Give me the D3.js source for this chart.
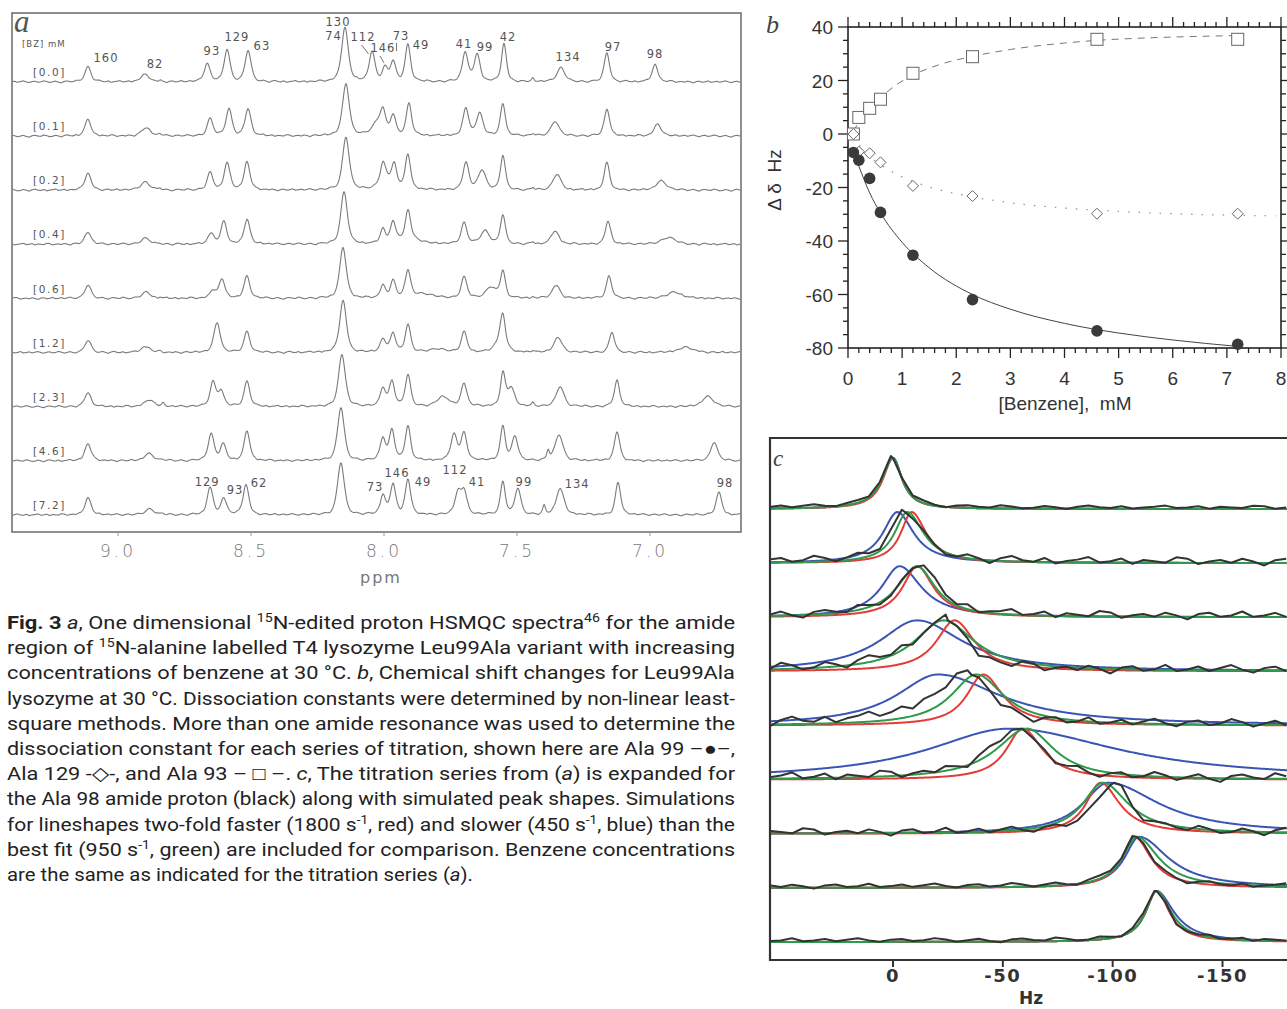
<!DOCTYPE html>
<html>
<head>
<meta charset="utf-8">
<title>Fig 3 benzene titration</title>
<script src="https://d3js.org/d3.v7.min.js"></script>
<style>
body{margin:0;background:#fff;}
svg{display:block;}
</style>
</head>
<body>
<svg id="fig" width="1287" height="1009"></svg>
<script>
// ---------- panel a: 1D spectra ----------
const concs = ["0.0","0.1","0.2","0.4","0.6","1.2","2.3","4.6","7.2"];
const ppmTicks = [9.0, 8.5, 8.0, 7.5, 7.0];

// one row per resonance, one column per benzene concentration
const peakNames = ["160","82","s1","93","129","63","130","112","146","73","49","41","99","42","s2","s3","134","97","98"];
const peakPpm = [
  [9.113,9.113,9.113,9.113,9.113,9.113,9.113,9.113,9.113],
  [8.898,8.895,8.898,8.898,8.895,8.895,8.883,8.883,8.880],
  [8.842,8.842,8.842,8.842,8.842,8.842,8.831,8.831,8.831],
  [8.665,8.654,8.654,8.650,8.643,8.632,8.613,8.605,8.602],
  [8.590,8.583,8.590,8.602,8.609,8.624,8.643,8.650,8.654],
  [8.511,8.511,8.515,8.515,8.515,8.515,8.515,8.515,8.519],
  [8.147,8.143,8.143,8.150,8.154,8.154,8.158,8.162,8.162],
  [8.045,8.023,7.990,7.900,7.850,7.800,7.778,7.737,7.722],
  [7.996,8.004,8.004,8.004,8.004,8.004,8.004,8.004,8.004],
  [7.966,7.966,7.962,7.966,7.966,7.966,7.970,7.970,7.966],
  [7.910,7.906,7.910,7.910,7.910,7.910,7.910,7.910,7.910],
  [7.695,7.692,7.692,7.699,7.699,7.699,7.699,7.699,7.699],
  [7.650,7.640,7.632,7.620,7.598,7.563,7.522,7.508,7.497],
  [7.549,7.553,7.553,7.553,7.553,7.553,7.553,7.553,7.553],
  [7.440,7.440,7.440,7.440,7.440,7.440,7.440,7.440,7.440],
  [7.390,7.390,7.390,7.390,7.390,7.390,7.390,7.383,7.398],
  [7.335,7.357,7.350,7.357,7.353,7.346,7.338,7.342,7.338],
  [7.162,7.162,7.162,7.158,7.154,7.143,7.124,7.124,7.120],
  [6.981,6.971,6.957,6.931,6.909,6.865,6.782,6.759,6.741]
];
const peakHeight = [
  [15,16,17,12,13,12,14,17,17],
  [7,8,8,6,6,6,7,7,6],
  [1,2,2,1,1,1,3,1,1],
  [18,17,17,11,8,14,15,16,16],
  [32,27,27,22,19,18,24,27,27],
  [31,27,28,25,22,21,25,29,30],
  [54,52,53,52,50,52,52,53,52],
  [29,13,8,5,4,3,10,26,21],
  [13,19,20,14,12,13,18,22,19],
  [19,19,21,21,17,19,25,30,30],
  [37,32,34,29,27,27,31,34,35],
  [29,27,27,21,21,20,23,27,22],
  [27,22,19,13,11,12,18,24,26],
  [38,32,34,29,27,29,33,34,33],
  [3,2,2,2,1,2,3,0,0],
  [0,0,0,0,0,0,0,9,8],
  [14,15,16,13,13,15,20,26,26],
  [29,27,27,23,22,20,26,29,32],
  [17,12,9,7,6,5,10,19,22]
];
// line widths (ppm, FWHM)
const peakWidth = [
  0.028, 0.04, 0.012, 0.026, 0.026, 0.026, 0.03,
  [0.026,0.05,0.07,0.09,0.09,0.09,0.05,0.028,0.028],
  0.024, 0.024, 0.024, 0.026,
  [0.026,0.03,0.035,0.04,0.045,0.045,0.03,0.026,0.026],
  0.022, 0.012, 0.012, 0.035, 0.024,
  [0.026,0.032,0.045,0.06,0.07,0.07,0.05,0.03,0.026]
];
// assignments printed over the first and last traces
const labelsTop = [
  ["160",9.045,57],["82",8.861,63],["93",8.647,50],["129",8.553,36],["63",8.459,45],
  ["130",8.173,21],["74",8.190,35],["112",8.079,36],["146",8.004,47],["73",7.936,35],
  ["49",7.861,44],["41",7.699,43],["99",7.620,46],["42",7.534,36],["134",7.308,56],
  ["97",7.139,46],["98",6.981,53]
];
const labelsBottom = [
  ["129",8.665,481],["93",8.560,489],["62",8.470,482],["73",8.034,486],["146",7.951,472],
  ["49",7.853,481],["112",7.733,469],["41",7.650,481],["99",7.474,481],["134",7.274,483],
  ["98",6.718,482]
];
const noise = [0,2,-1,1,3,0,-2,1,2,-1,0,3,1,-2,0,2,-1,-3,1,2,0,-1,3,1,-2,-1,2,0,-3,1,
               3,0,-1,2,-2,0,1,3,-1,0,2,-2,1,0,-1,3,2,-2,0,1,-1,2,0,-3,1,2,-1,0,3,-1];

// ---------- panel b: chemical shift changes ----------
const benzene = [0.1,0.2,0.4,0.6,1.2,2.3,4.6,7.2];
const ala99 = [-6.9,-9.8,-16.6,-29.3,-45.3,-61.9,-73.6,-78.6];
const ala129 = [0,-6.6,-7.2,-10.6,-19.4,-23.2,-29.8,-29.8];
const ala93 = [0,6.2,9.6,13,22.7,28.9,35.4,35.4];
const fit99 = [[0.1,-6.7],[0.2,-12],[0.4,-22],[0.6,-29.5],[1,-40.5],[1.5,-50],[2.3,-60],[3,-65.5],[4,-70.8],[5,-74.4],[6,-77],[7.2,-79.4]];
const fit129 = [[0.1,-1],[0.3,-6.5],[0.6,-11.5],[1,-16],[1.5,-19.8],[2.3,-23.5],[3,-25.7],[4,-27.7],[5,-28.9],[6,-29.8],[7,-30.3],[7.9,-30.6]];
const fit93 = [[0.1,1],[0.25,6],[0.45,10.5],[0.6,13.5],[0.9,18.5],[1.2,22],[1.7,26],[2.3,29],[3,31.6],[4,34],[4.6,35],[5.5,35.9],[6.5,36.5],[7.2,36.8]];

// ---------- panel c: Ala 98 lineshapes (Hz, half widths left/right) ----------
const hzTicks = [0,-50,-100,-150];
const blackCentre = [0,-5.5,-12,-25,-35.6,-58,-100.5,-111,-120];
const blackLW = [6,8,11,18,20,16,9,8,6];
const blackRW = [5,9,10,10,11,11,9,8,6.5];
const redCentre = [0,-8.5,-11,-28,-41,-59,-94.5,-110,-120];
const redLW = [5.5,6,8,10,9,9,8,7,6];
const redRW = [5,8,9,11,11,11,10.5,9,7];
const greenCentre = [0,-6.5,-11,-23,-38,-61,-95.5,-111,-120];
const greenLW = [6,7,11,16,14,17,11,8,6];
const greenRW = [5,9,10,17,15,15,14,12,8];
const blueCentre = [0,-2,-3,-11,-20.5,-53,-98,-112,-120];
const blueLW = [6,8,10,21,23,45,14,8,6];
const blueRW = [5,9,12,25,34,60,28,16,9.5];
const noiseAmp = [1.8,4,4,4.5,4.5,4.5,3.8,2.4,2.2];

const captionLines = [
  [["Fig. 3","b"],[" "],["a","i"],[", One dimensional "],["15","sup"],["N-edited proton HSMQC spectra"],["46","sup"],[" for the amide"]],
  [["region of "],["15","sup"],["N-alanine labelled T4 lysozyme Leu99Ala variant with increasing"]],
  [["concentrations of benzene at 30 °C. "],["b","i"],[", Chemical shift changes for Leu99Ala"]],
  [["lysozyme at 30 °C. Dissociation constants were determined by non-linear least-"]],
  [["square methods. More than one amide resonance was used to determine the"]],
  [["dissociation constant for each series of titration, shown here are Ala 99 –●–,"]],
  [["Ala 129 -◇-, and Ala 93 – □ –. "],["c","i"],[", The titration series from ("],["a","i"],[") is expanded for"]],
  [["the Ala 98 amide proton (black) along with simulated peak shapes. Simulations"]],
  [["for lineshapes two-fold faster (1800 s"],["-1","sup"],[", red) and slower (450 s"],["-1","sup"],[", blue) than the"]],
  [["best fit (950 s"],["-1","sup"],[", green) are included for comparison. Benzene concentrations"]],
  [["are the same as indicated for the titration series ("],["a","i"],[")."]]
];
const captionWidths = [728,728,728,728,728,728,728,728,728,728,466];

const svg = d3.select("#fig");

// ================= panel a =================
const xA = d3.scaleLinear().domain([9, 7]).range([118, 650]);
const yA = d3.scaleLinear().domain([0, 60]).range([0, -60]);
const baseA = d3.scaleLinear().domain([0, concs.length - 1]).range([82, 515]);
const boxA = {x0: 12, x1: 741, y0: 13, y1: 532};

svg.append("clipPath").attr("id", "clipA").append("rect")
  .attr("x", boxA.x0 + 1).attr("y", boxA.y0 + 1)
  .attr("width", boxA.x1 - boxA.x0 - 2).attr("height", boxA.y1 - boxA.y0 - 2);

function pv(x, c, h, w) {
  const u = (x - c) / w, u2 = 4 * u * u;
  return h * (0.55 / (1 + u2) + 0.45 * Math.exp(-Math.LN2 * u2));
}
function ripple(k, shift) {
  const n = noise.length;
  const i = Math.floor(k), f = k - i;
  const a = noise[((i + shift) % n + n) % n], b = noise[((i + 1 + shift) % n + n) % n];
  return a + (b - a) * f;
}

const ppmGrid = d3.range(xA.invert(boxA.x0), xA.invert(boxA.x1), -0.0015);
const lineA = d3.line().x(d => xA(d[0])).y(d => d[1]);
const gA = svg.append("g").attr("clip-path", "url(#clipA)");
concs.forEach((c, t) => {
  const base = baseA(t);
  const pts = ppmGrid.map(p => {
    let v = 0;
    peakPpm.forEach((row, k) => {
      const w = Array.isArray(peakWidth[k]) ? peakWidth[k][t] : peakWidth[k];
      v += pv(p, row[t], peakHeight[k][t], w);
    });
    v += 0.35 * ripple((9.4 - p) / 0.011, t * 11);
    return [p, base + yA(v)];
  });
  gA.append("path").attr("d", lineA(pts))
    .attr("fill", "none").attr("stroke", "#7a7a7a").attr("stroke-width", 1.1);
  svg.append("text").attr("x", 33).attr("y", base - 6)
    .attr("font-family", "DejaVu Sans, sans-serif").attr("font-size", 10.5)
    .attr("letter-spacing", 1.6).attr("fill", "#555")
    .text("[" + c + "]");
});

svg.append("rect").attr("x", boxA.x0).attr("y", boxA.y0)
  .attr("width", boxA.x1 - boxA.x0).attr("height", boxA.y1 - boxA.y0)
  .attr("fill", "none").attr("stroke", "#6a6a6a").attr("stroke-width", 1.5);

svg.selectAll(".tickA").data(ppmTicks).enter().append("line")
  .attr("x1", d => xA(d)).attr("x2", d => xA(d))
  .attr("y1", boxA.y1).attr("y2", boxA.y1 + 4)
  .attr("stroke", "#999").attr("stroke-width", 1);
svg.selectAll(".tlA").data(ppmTicks).enter().append("text")
  .attr("x", d => xA(d)).attr("y", 557).attr("text-anchor", "middle")
  .attr("font-family", "DejaVu Sans, sans-serif").attr("font-size", 17)
  .attr("font-weight", 300).attr("letter-spacing", 3).attr("fill", "#777")
  .text(d => d.toFixed(1));
svg.append("text").attr("x", 381).attr("y", 583).attr("text-anchor", "middle")
  .attr("font-family", "DejaVu Sans, sans-serif").attr("font-size", 16)
  .attr("letter-spacing", 2).attr("fill", "#777").text("ppm");

svg.append("text").attr("x", 14).attr("y", 32)
  .attr("font-family", "Liberation Serif, serif").attr("font-style", "italic")
  .attr("font-size", 31).attr("fill", "#555").text("a");
svg.append("text").attr("x", 22).attr("y", 47)
  .attr("font-family", "DejaVu Sans, sans-serif").attr("font-size", 8.5)
  .attr("letter-spacing", 1).attr("fill", "#555").text("[BZ]  mM");

[labelsTop, labelsBottom].forEach(set => {
  svg.selectAll(null).data(set).enter().append("text")
    .attr("x", d => xA(d[1])).attr("y", d => d[2] + 5).attr("text-anchor", "middle")
    .attr("font-family", "DejaVu Sans, sans-serif").attr("font-size", 11.5)
    .attr("letter-spacing", 1).attr("fill", "#555").text(d => d[0]);
});
// leader strokes for the crowded 112 / 146 / 73 labels
const leaders = [[8.084, 45, 8.058, 54], [8.015, 56, 8.000, 63], [7.953, 43, 7.953, 51]];
svg.selectAll(null).data(leaders).enter().append("line")
  .attr("x1", d => xA(d[0])).attr("y1", d => d[1])
  .attr("x2", d => xA(d[2])).attr("y2", d => d[3])
  .attr("stroke", "#666").attr("stroke-width", 0.9);

// ================= panel b =================
const xB = d3.scaleLinear().domain([0, 8]).range([848, 1281]);
const yB = d3.scaleLinear().domain([-80, 40]).range([348, 27]);
const gB = svg.append("g");

gB.append("rect").attr("x", xB(0)).attr("y", yB(40))
  .attr("width", xB(8) - xB(0)).attr("height", yB(-80) - yB(40))
  .attr("fill", "none").attr("stroke", "#222").attr("stroke-width", 1.6);

const xMinor = d3.range(0, 8.001, 0.2);
const yMinor = d3.range(-80, 40.001, 5);
const isMajX = v => Math.abs(v - Math.round(v)) < 1e-6;
const isMajY = v => Math.abs(v % 20) < 1e-6;
xMinor.forEach(v => {
  const L = isMajX(v) ? 10 : 5;
  gB.append("line").attr("x1", xB(v)).attr("x2", xB(v)).attr("y1", yB(-80)).attr("y2", yB(-80) + L)
    .attr("stroke", "#222").attr("stroke-width", 1.3);
  gB.append("line").attr("x1", xB(v)).attr("x2", xB(v)).attr("y1", yB(40)).attr("y2", yB(40) - L)
    .attr("stroke", "#222").attr("stroke-width", 1.3);
});
yMinor.forEach(v => {
  const L = isMajY(v) ? 10 : 5;
  gB.append("line").attr("x1", xB(0) - L).attr("x2", xB(0)).attr("y1", yB(v)).attr("y2", yB(v))
    .attr("stroke", "#222").attr("stroke-width", 1.3);
  gB.append("line").attr("x1", xB(8)).attr("x2", xB(8) + L).attr("y1", yB(v)).attr("y2", yB(v))
    .attr("stroke", "#222").attr("stroke-width", 1.3);
});
gB.selectAll(".xl").data(d3.range(0, 9)).enter().append("text")
  .attr("x", d => xB(d)).attr("y", 385).attr("text-anchor", "middle")
  .attr("font-family", "Liberation Sans, Arial, sans-serif").attr("font-size", 19)
  .attr("fill", "#333").text(d => d);
gB.selectAll(".yl").data(d3.range(-80, 41, 20)).enter().append("text")
  .attr("x", 833).attr("y", d => yB(d) + 7).attr("text-anchor", "end")
  .attr("font-family", "Liberation Sans, Arial, sans-serif").attr("font-size", 19)
  .attr("fill", "#333").text(d => d);
gB.append("text").attr("x", 1065).attr("y", 410).attr("text-anchor", "middle")
  .attr("font-family", "Liberation Sans, Arial, sans-serif").attr("font-size", 19)
  .attr("fill", "#333").attr("xml:space", "preserve").text("[Benzene],  mM");
gB.append("text").attr("transform", "translate(781,180) rotate(-90)").attr("text-anchor", "middle")
  .attr("font-family", "Liberation Sans, Arial, sans-serif").attr("font-size", 19)
  .attr("fill", "#333").attr("xml:space", "preserve").text("Δ δ  Hz");
gB.append("text").attr("x", 766).attr("y", 33)
  .attr("font-family", "Liberation Serif, serif").attr("font-style", "italic")
  .attr("font-size", 26).attr("fill", "#444").text("b");

const lineB = d3.line().x(d => xB(d[0])).y(d => yB(d[1])).curve(d3.curveMonotoneX);
gB.append("path").attr("d", lineB(fit93)).attr("fill", "none")
  .attr("stroke", "#777").attr("stroke-width", 1).attr("stroke-dasharray", "7,6");
gB.append("path").attr("d", lineB(fit129)).attr("fill", "none")
  .attr("stroke", "#999").attr("stroke-width", 1.3).attr("stroke-dasharray", "1.5,9");
gB.append("path").attr("d", lineB(fit99)).attr("fill", "none")
  .attr("stroke", "#444").attr("stroke-width", 1);

gB.selectAll(".sq").data(benzene).enter().append("rect")
  .attr("x", (d, i) => xB(d) - 6).attr("y", (d, i) => yB(ala93[i]) - 6)
  .attr("width", 12).attr("height", 12)
  .attr("fill", "#fff").attr("stroke", "#666").attr("stroke-width", 1);
gB.selectAll(".dm").data(benzene).enter().append("path")
  .attr("d", (d, i) => { const x = xB(d), y = yB(ala129[i]);
    return `M${x},${y - 5.5}L${x + 5.5},${y}L${x},${y + 5.5}L${x - 5.5},${y}Z`; })
  .attr("fill", "#fff").attr("stroke", "#666").attr("stroke-width", 1);
gB.selectAll(".ci").data(benzene).enter().append("circle")
  .attr("cx", d => xB(d)).attr("cy", (d, i) => yB(ala99[i])).attr("r", 5.8)
  .attr("fill", "#3a3a3a");

// ================= panel c =================
const xC = d3.scaleLinear().domain([0, -150]).range([893, 1222.5]);
const baseC = d3.scaleLinear().domain([0, concs.length - 1]).range([509, 942]);
const yC = d3.scaleLinear().domain([0, 1]).range([0, -51]);
const boxC = {x0: 770, y0: 438, y1: 960};

svg.append("clipPath").attr("id", "clipC").append("rect")
  .attr("x", boxC.x0 + 1).attr("y", boxC.y0 + 1).attr("width", 600).attr("height", boxC.y1 - boxC.y0 - 2);

function lor(hz, c, lw, rw) {
  const w = hz > c ? lw : rw;
  const u = (hz - c) / w;
  return 1 / (1 + u * u);
}
const hzFine = d3.range(xC.invert(boxC.x0), -182, -0.5);
const hzCoarse = d3.range(56, -182, -5);
const lineC = d3.line().x(d => xC(d[0])).y(d => d[1]);
const gC = svg.append("g").attr("clip-path", "url(#clipC)");

const sims = [
  ["#3b55b5", blueCentre, blueLW, blueRW],
  ["#e53b36", redCentre, redLW, redRW],
  ["#2f9a4c", greenCentre, greenLW, greenRW]
];
concs.forEach((c, t) => {
  const base = baseC(t);
  sims.forEach(([col, cen, lw, rw]) => {
    const pts = hzFine.map(h => [h, base + yC(lor(h, cen[t], lw[t], rw[t]))]);
    gC.append("path").attr("d", lineC(pts)).attr("fill", "none")
      .attr("stroke", col).attr("stroke-width", 2);
  });
  const hs = hzCoarse.concat([blackCentre[t]]).sort((a, b) => b - a);
  const pts = hs.map((h, j) => {
    const nz = h === blackCentre[t] ? 0 : (1.5 + noise[(j + t * 7) % noise.length] * noiseAmp[t] / 3);
    return [h, base + yC(lor(h, blackCentre[t], blackLW[t], blackRW[t])) - nz];
  });
  gC.append("path").attr("d", lineC(pts)).attr("fill", "none")
    .attr("stroke", "#333").attr("stroke-width", 2).attr("stroke-linejoin", "round");
});

svg.append("path")
  .attr("d", `M1290,${boxC.y0}H${boxC.x0}V${boxC.y1}H1290`)
  .attr("fill", "none").attr("stroke", "#333").attr("stroke-width", 2.2);
svg.selectAll(".tickC").data(hzTicks).enter().append("line")
  .attr("x1", d => xC(d)).attr("x2", d => xC(d)).attr("y1", boxC.y1).attr("y2", boxC.y1 + 7)
  .attr("stroke", "#333").attr("stroke-width", 2);
svg.selectAll(".tlC").data(hzTicks).enter().append("text")
  .attr("x", d => xC(d)).attr("y", 982).attr("text-anchor", "middle")
  .attr("font-family", "DejaVu Sans, sans-serif").attr("font-size", 18).attr("font-weight", "bold")
  .attr("letter-spacing", 1.5).attr("fill", "#333").text(d => d === 0 ? "0" : "-" + Math.abs(d));
svg.append("text").attr("x", 1031).attr("y", 1004).attr("text-anchor", "middle")
  .attr("font-family", "DejaVu Sans, sans-serif").attr("font-size", 17).attr("font-weight", "bold")
  .attr("fill", "#333").text("Hz");
svg.append("text").attr("x", 773).attr("y", 466)
  .attr("font-family", "Liberation Serif, serif").attr("font-style", "italic")
  .attr("font-size", 23).attr("fill", "#444").text("c");

// ================= caption =================
const cap = svg.append("g").attr("font-family", "Roboto, 'Open Sans', sans-serif")
  .attr("font-size", 18.5).attr("fill", "#222");
captionLines.forEach((segs, i) => {
  const tx = cap.append("text").attr("x", 7).attr("y", 629 + i * 25.2).attr("xml:space", "preserve")
    .attr("textLength", captionWidths[i]).attr("lengthAdjust", "spacingAndGlyphs");
  let raised = false;
  segs.forEach(([s, st]) => {
    const sp = tx.append("tspan").text(s);
    if (st === "b") sp.attr("font-weight", "bold");
    if (st === "i") sp.attr("font-style", "italic");
    if (st === "sup") { sp.attr("font-size", 12).attr("dy", -7); raised = true; }
    else if (raised) { sp.attr("dy", 7); raised = false; }
  });
});
</script>
</body>
</html>
